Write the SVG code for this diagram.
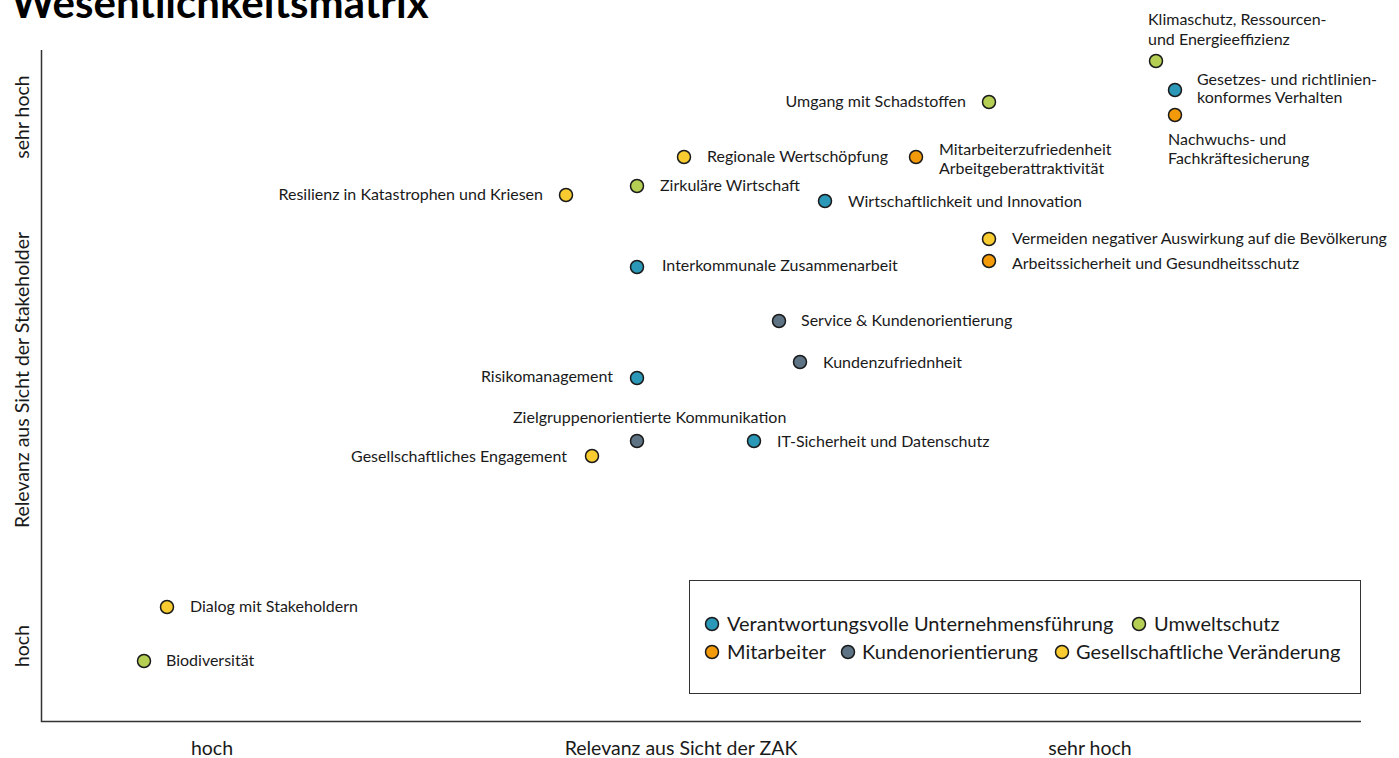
<svg xmlns="http://www.w3.org/2000/svg" width="1399" height="758" viewBox="0 0 1399 758">
<style>
text{font-family:Lato,"Noto Sans","Liberation Sans",sans-serif;fill:#1a1a1a}
.l{font-size:16px}
.e{text-anchor:end}
.m{text-anchor:middle}
.ax{font-size:19.5px}
.lg{font-size:20px}
.t{font-size:42px;font-weight:bold;fill:#000}
circle{stroke:#1a1a1a;stroke-width:1.5}
.b{fill:#2b98b8}.g{fill:#b5cf55}.o{fill:#f39a0a}.k{fill:#5e7485}.y{fill:#f8cc31}
</style>
<rect width="1399" height="758" fill="#fff"/>
<text class="t" x="11" y="18">Wesentlichkeitsmatrix</text>
<g id="axes">
<path d="M41.5 50V721.5H1361" fill="none" stroke="#333" stroke-width="1.5"/>
<text class="ax m" transform="translate(29 117) rotate(-90)">sehr hoch</text>
<text class="ax m" transform="translate(29 380) rotate(-90)">Relevanz aus Sicht der Stakeholder</text>
<text class="ax m" transform="translate(29 646) rotate(-90)">hoch</text>
<text class="ax m" x="212" y="755">hoch</text>
<text class="ax m" x="681" y="755">Relevanz aus Sicht der ZAK</text>
<text class="ax m" x="1090" y="755">sehr hoch</text>
</g>
<g id="connectors"></g>
<g id="n1"><circle class="g" cx="1156" cy="61" r="6.5"/><text class="l" x="1148" y="25">Klimaschutz, Ressourcen-</text><text class="l" x="1148" y="45">und Energieeffizienz</text></g>
<g id="n2"><circle class="b" cx="1175" cy="90" r="6.5"/><text class="l" x="1197" y="85">Gesetzes- und richtlinien-</text><text class="l" x="1197" y="103">konformes Verhalten</text></g>
<g id="n3"><circle class="o" cx="1175" cy="115" r="6.5"/><text class="l" x="1168" y="145">Nachwuchs- und</text><text class="l" x="1168" y="164">Fachkräftesicherung</text></g>
<g id="n4"><circle class="g" cx="989" cy="102" r="6.5"/><text class="l e" x="966" y="107">Umgang mit Schadstoffen</text></g>
<g id="n5"><circle class="y" cx="684" cy="157" r="6.5"/><text class="l" x="707" y="162">Regionale Wertschöpfung</text></g>
<g id="n6"><circle class="o" cx="916" cy="157" r="6.5"/><text class="l" x="939" y="155">Mitarbeiterzufriedenheit</text><text class="l" x="939" y="174">Arbeitgeberattraktivität</text></g>
<g id="n7"><circle class="g" cx="637" cy="186" r="6.5"/><text class="l" x="660" y="191">Zirkuläre Wirtschaft</text></g>
<g id="n8"><circle class="y" cx="566" cy="195" r="6.5"/><text class="l e" x="543" y="200">Resilienz in Katastrophen und Kriesen</text></g>
<g id="n9"><circle class="b" cx="825" cy="201" r="6.5"/><text class="l" x="848" y="207">Wirtschaftlichkeit und Innovation</text></g>
<g id="n10"><circle class="y" cx="989" cy="239" r="6.5"/><text class="l" x="1012" y="244">Vermeiden negativer Auswirkung auf die Bevölkerung</text></g>
<g id="n11"><circle class="o" cx="989" cy="261" r="6.5"/><text class="l" x="1012" y="269">Arbeitssicherheit und Gesundheitsschutz</text></g>
<g id="n12"><circle class="b" cx="637" cy="267" r="6.5"/><text class="l" x="662" y="271">Interkommunale Zusammenarbeit</text></g>
<g id="n13"><circle class="k" cx="779" cy="321" r="6.5"/><text class="l" x="801" y="326">Service &amp; Kundenorientierung</text></g>
<g id="n14"><circle class="k" cx="800" cy="362" r="6.5"/><text class="l" x="823" y="368">Kundenzufriednheit</text></g>
<g id="n15"><circle class="b" cx="637" cy="378" r="6.5"/><text class="l e" x="613" y="382">Risikomanagement</text></g>
<g id="n16"><circle class="k" cx="637" cy="441" r="6.5"/><text class="l" x="513" y="423">Zielgruppenorientierte Kommunikation</text></g>
<g id="n17"><circle class="b" cx="754" cy="441" r="6.5"/><text class="l" x="777" y="447">IT-Sicherheit und Datenschutz</text></g>
<g id="n18"><circle class="y" cx="592" cy="456" r="6.5"/><text class="l e" x="567" y="462">Gesellschaftliches Engagement</text></g>
<g id="n19"><circle class="y" cx="167" cy="607" r="6.5"/><text class="l" x="190" y="612">Dialog mit Stakeholdern</text></g>
<g id="n20"><circle class="g" cx="144" cy="661" r="6.5"/><text class="l" x="166" y="666">Biodiversität</text></g>
<g id="legend">
<rect x="689.5" y="580.5" width="671" height="113" fill="#fff" stroke="#333" stroke-width="1"/>
<circle class="b" cx="712" cy="624" r="6.5"/><text class="lg" x="727" y="631">Verantwortungsvolle Unternehmensführung</text>
<circle class="g" cx="1139" cy="624" r="6.5"/><text class="lg" x="1154" y="631">Umweltschutz</text>
<circle class="o" cx="712" cy="652" r="6.5"/><text class="lg" x="727" y="659">Mitarbeiter</text>
<circle class="k" cx="848" cy="652" r="6.5"/><text class="lg" x="862" y="659">Kundenorientierung</text>
<circle class="y" cx="1062" cy="652" r="6.5"/><text class="lg" x="1076" y="659">Gesellschaftliche Veränderung</text>
</g>
</svg>
